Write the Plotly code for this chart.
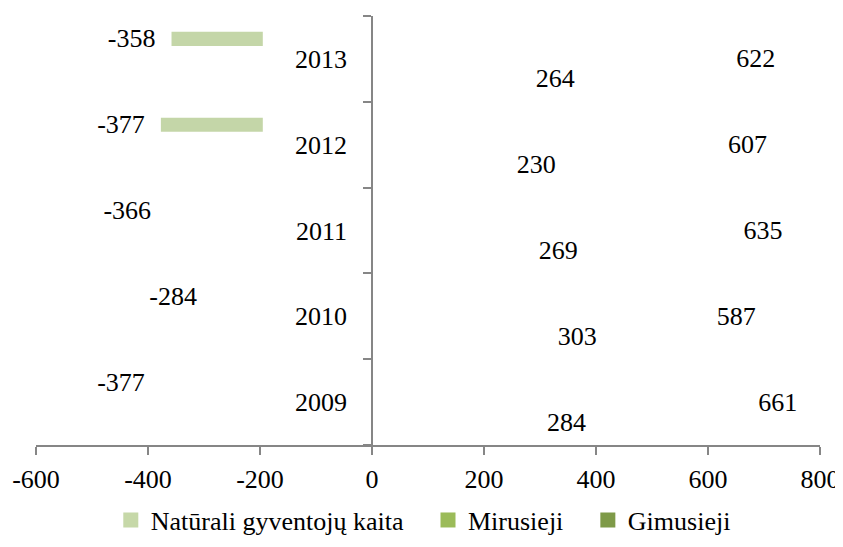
import plotly.graph_objects as go

# ---- data ----
years = ["2009", "2010", "2011", "2012", "2013"]
gimusieji = [284, 303, 269, 230, 264]          # births
mirusieji = [661, 587, 635, 607, 622]          # deaths
naturali_kaita = [-377, -284, -366, -377, -358]  # natural change

series_names = ["Natūrali gyventojų kaita", "Mirusieji", "Gimusieji"]
legend_colors = ["#C6D8A8", "#9BBB59", "#7E9A48"]

x_ticks = [-600, -400, -200, 0, 200, 400, 600, 800]
x_tick_labels = ["-600", "-400", "-200", "0", "200", "400", "600", "800"]

# In the picture only part of two natural-change bars is rendered (2012, 2013),
# visible from the bar end up to about -195 on the value axis.
visible_from = -195
nat_visible = [False, False, False, True, True]

FONT = "Liberation Serif, Times New Roman, serif"
FS = 26
AXIS = "#868686"
NB = "\u00a0\u00a0"
GAP = "\u00a0\u00a0\u00a0"
NOLINE = dict(width=0, color="rgba(0,0,0,0)")

fig = go.Figure()

# births / deaths bars are not rendered in the reference (only labels)
fig.add_trace(go.Bar(
    y=years, x=gimusieji, orientation="h", name="Gimusieji",
    marker=dict(color="rgba(0,0,0,0)", line=NOLINE), showlegend=False,
    text=[NB + str(v) for v in gimusieji], textposition="outside",
    constraintext="none", cliponaxis=False,
    textfont=dict(family=FONT, size=FS, color="black"),
))
fig.add_trace(go.Bar(
    y=years, x=mirusieji, orientation="h", name="Mirusieji",
    marker=dict(color="rgba(0,0,0,0)", line=NOLINE), showlegend=False,
    text=[NB + str(v) for v in mirusieji], textposition="outside",
    constraintext="none", cliponaxis=False,
    textfont=dict(family=FONT, size=FS, color="black"),
))
fig.add_trace(go.Bar(
    y=years, x=[v - visible_from for v in naturali_kaita],
    base=[visible_from] * len(years), orientation="h",
    name="Natūrali gyventojų kaita",
    marker=dict(color=["#C4D6A8" if s else "rgba(0,0,0,0)" for s in nat_visible],
                line=NOLINE),
    showlegend=False,
    text=[str(v) + NB for v in naturali_kaita], textposition="outside",
    constraintext="none", cliponaxis=False,
    textfont=dict(family=FONT, size=FS, color="black"),
))

# legend entries
for i, (name, col) in enumerate(zip(series_names, legend_colors)):
    label = name + (GAP if i < len(series_names) - 1 else "")
    fig.add_trace(go.Scatter(
        x=[None], y=[None], mode="markers", name=label,
        marker=dict(symbol="square", size=15, color=col),
    ))

# the page places the figure 8px from the top-left corner (body margin);
# height kept small enough that the page does not scroll
fig.update_layout(
    template="none",
    width=835, height=527,
    margin=dict(l=28, r=23, t=8, b=90, autoexpand=False),
    paper_bgcolor="white", plot_bgcolor="white",
    barmode="group", bargap=0.30, bargroupgap=0.30,
    font=dict(family=FONT, size=FS, color="black"),
    showlegend=True,
    legend=dict(orientation="h", x=0.494, xanchor="center", y=-0.175, yanchor="middle",
                font=dict(family=FONT, size=FS, color="black"),
                traceorder="normal", bgcolor="rgba(0,0,0,0)"),
    xaxis=dict(range=[-600, 800], tickmode="array", tickvals=x_ticks, ticktext=x_tick_labels,
               showgrid=False, zeroline=False, automargin=False,
               showline=True, linecolor=AXIS, linewidth=1.5,
               ticks="outside", ticklen=8, tickcolor=AXIS, tickwidth=1.5,
               ticklabelstandoff=2, ticklabeloverflow="allow",
               tickfont=dict(family=FONT, size=FS, color="black")),
    yaxis=dict(type="category", categoryorder="array", categoryarray=years,
               anchor="free", position=600 / 1400, automargin=False,
               showgrid=False, zeroline=False,
               showline=True, linecolor=AXIS, linewidth=1.5,
               ticks="outside", ticklen=8, tickcolor=AXIS, tickwidth=1.5,
               tickson="boundaries", ticklabelstandoff=19, ticklabeloverflow="allow",
               tickfont=dict(family=FONT, size=FS, color="black")),
)

fig.write_html("out.html")
